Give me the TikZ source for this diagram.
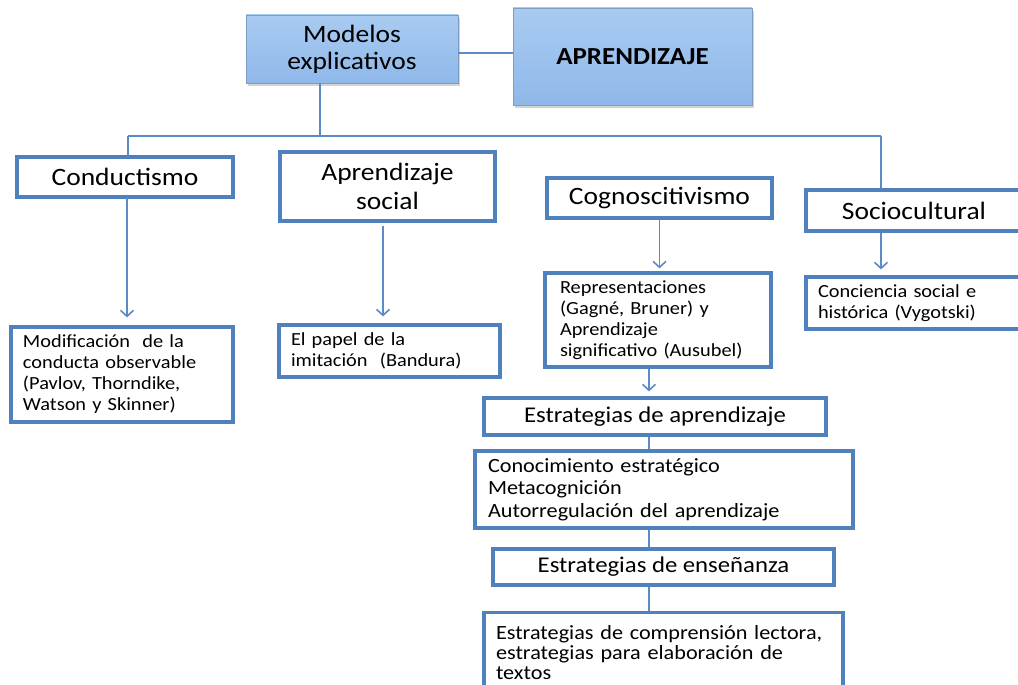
\documentclass[tikz,border=0pt]{standalone}
\usepackage{fontspec}
\setmainfont[FakeStretch=1.1]{Carlito}
\usepackage{tikz}
\usetikzlibrary{arrows.meta,shadows}
\definecolor{boxblue}{HTML}{4F81BD}
\definecolor{lineblue}{HTML}{5B8AC6}
\definecolor{topedge}{HTML}{7D9CC6}
\definecolor{topfillA}{HTML}{A9CBF1}
\definecolor{topfillB}{HTML}{8FB8EA}

\begin{document}
\begin{tikzpicture}[x=1pt,y=-1pt,
  hdr/.style={draw=boxblue, line width=3.2pt, fill=white, align=center, inner sep=0pt, font=\fontsize{25}{29}\selectfont},
  sub/.style={draw=boxblue, line width=3.2pt, fill=white, align=center, inner sep=0pt, font=\fontsize{22.5}{26}\selectfont},
  txt/.style={draw=boxblue, line width=3.2pt, fill=white, align=left, inner xsep=12pt, inner ysep=0pt, font=\fontsize{18.5}{21}\selectfont},
  topbox/.style={draw=topedge, line width=0.8pt, top color=topfillA, bottom color=topfillB, align=center, inner sep=0pt,
    drop shadow={shadow xshift=2pt, shadow yshift=-3pt, opacity=0.35}},
  lnk/.style={draw=lineblue, line width=1.6pt},
  arr/.style={draw=lineblue, line width=1.6pt, -{Straight Barb[length=6pt,width=13pt,line width=1.6pt]}}]
\useasboundingbox (0,0) rectangle (1018,685);

\node[topbox, minimum width=212pt, minimum height=68pt, font=\fontsize{25}{27}\selectfont] (model) at (352,49) {Modelos\\explicativos};
\node[topbox, minimum width=239pt, minimum height=97pt, font=\fontsize{24.5}{25}\selectfont\bfseries] (apren) at (632.5,56.5) {APRENDIZAJE};

\node[hdr, minimum width=216pt, minimum height=40pt] (cond) at (125,177) {Conductismo};
\node[hdr, minimum width=215pt, minimum height=69pt] (social) at (387.5,186.5) {Aprendizaje\\social};
\node[hdr, minimum width=225pt, minimum height=40pt] (cogn) at (659.5,198) {Cognoscitivismo};
\node[hdr, minimum width=216pt, minimum height=41pt] (socio) at (914,210.5) {Sociocultural};

\node[txt, text width=198pt, minimum height=95pt] (modif) at (122,374.5) {Modificación\ \ de la\\conducta observable\\(Pavlov, Thorndike,\\Watson y Skinner)};
\node[txt, text width=197pt, minimum height=52pt] (papel) at (389.5,351) {El papel de la\\imitación\ \ (Bandura)};
\node[txt, inner xsep=15pt, text width=196pt, minimum height=94pt] (repr) at (658,320) {Representaciones\\(Gagné, Bruner) y\\Aprendizaje\\significativo (Ausubel)};
\node[txt, text width=192pt, minimum height=52pt] (conc) at (914,303) {Conciencia social e\\histórica (Vygotski)};

\node[sub, minimum width=342pt, minimum height=37pt] (estapr) at (655,416.5) {Estrategias de aprendizaje};
\node[txt, inner xsep=13pt, text width=352pt, minimum height=77pt, font=\fontsize{20.2}{22.5}\selectfont] (conoc) at (664,489.5) {Conocimiento estratégico\\Metacognición\\Autorregulación del aprendizaje};
\node[sub, minimum width=341pt, minimum height=36pt] (estens) at (663.5,567) {Estrategias de enseñanza};
\node[txt, inner xsep=12pt, text width=335pt, minimum height=80pt, anchor=north, font=\fontsize{20.2}{20}\selectfont] (compr) at (663.5,611) {Estrategias de comprensión lectora,\\estrategias para elaboración de\\textos};

\coordinate (busL) at (128,136);
\coordinate (busM) at (320,136);
\coordinate (busR) at (881,136);
\coordinate (colA) at (649,0);

\draw[lnk] ([yshift=-4pt]model.east) -- ([yshift=-4pt]model.east -| apren.west);
\draw[lnk] (busM |- model.south) -- (busM);
\draw[lnk, line width=1.2pt] (busL) -- (busR);
\draw[lnk] (busL) -- (busL |- cond.north);
\draw[lnk] (busR) -- (busR |- socio.north);

\draw[arr, shorten >=8pt] (127,197) -- (127,197 |- modif.north);
\draw[arr, shorten <=3pt, shorten >=7pt] (social.south -| 383,0) -- (383,0 |- papel.north);
\draw[arr, shorten >=3pt] (cogn.south) -- (cogn.south |- repr.north);
\draw[arr, shorten >=6pt] (busR |- socio.south) -- (busR |- conc.north);
\draw[arr, shorten >=5pt] (colA |- repr.south) -- (colA |- estapr.north);
\draw[lnk] (colA |- estapr.south) -- (colA |- conoc.north);
\draw[lnk] (colA |- conoc.south) -- (colA |- estens.north);
\draw[lnk] (colA |- estens.south) -- (colA |- compr.north);
\end{tikzpicture}
\end{document}
